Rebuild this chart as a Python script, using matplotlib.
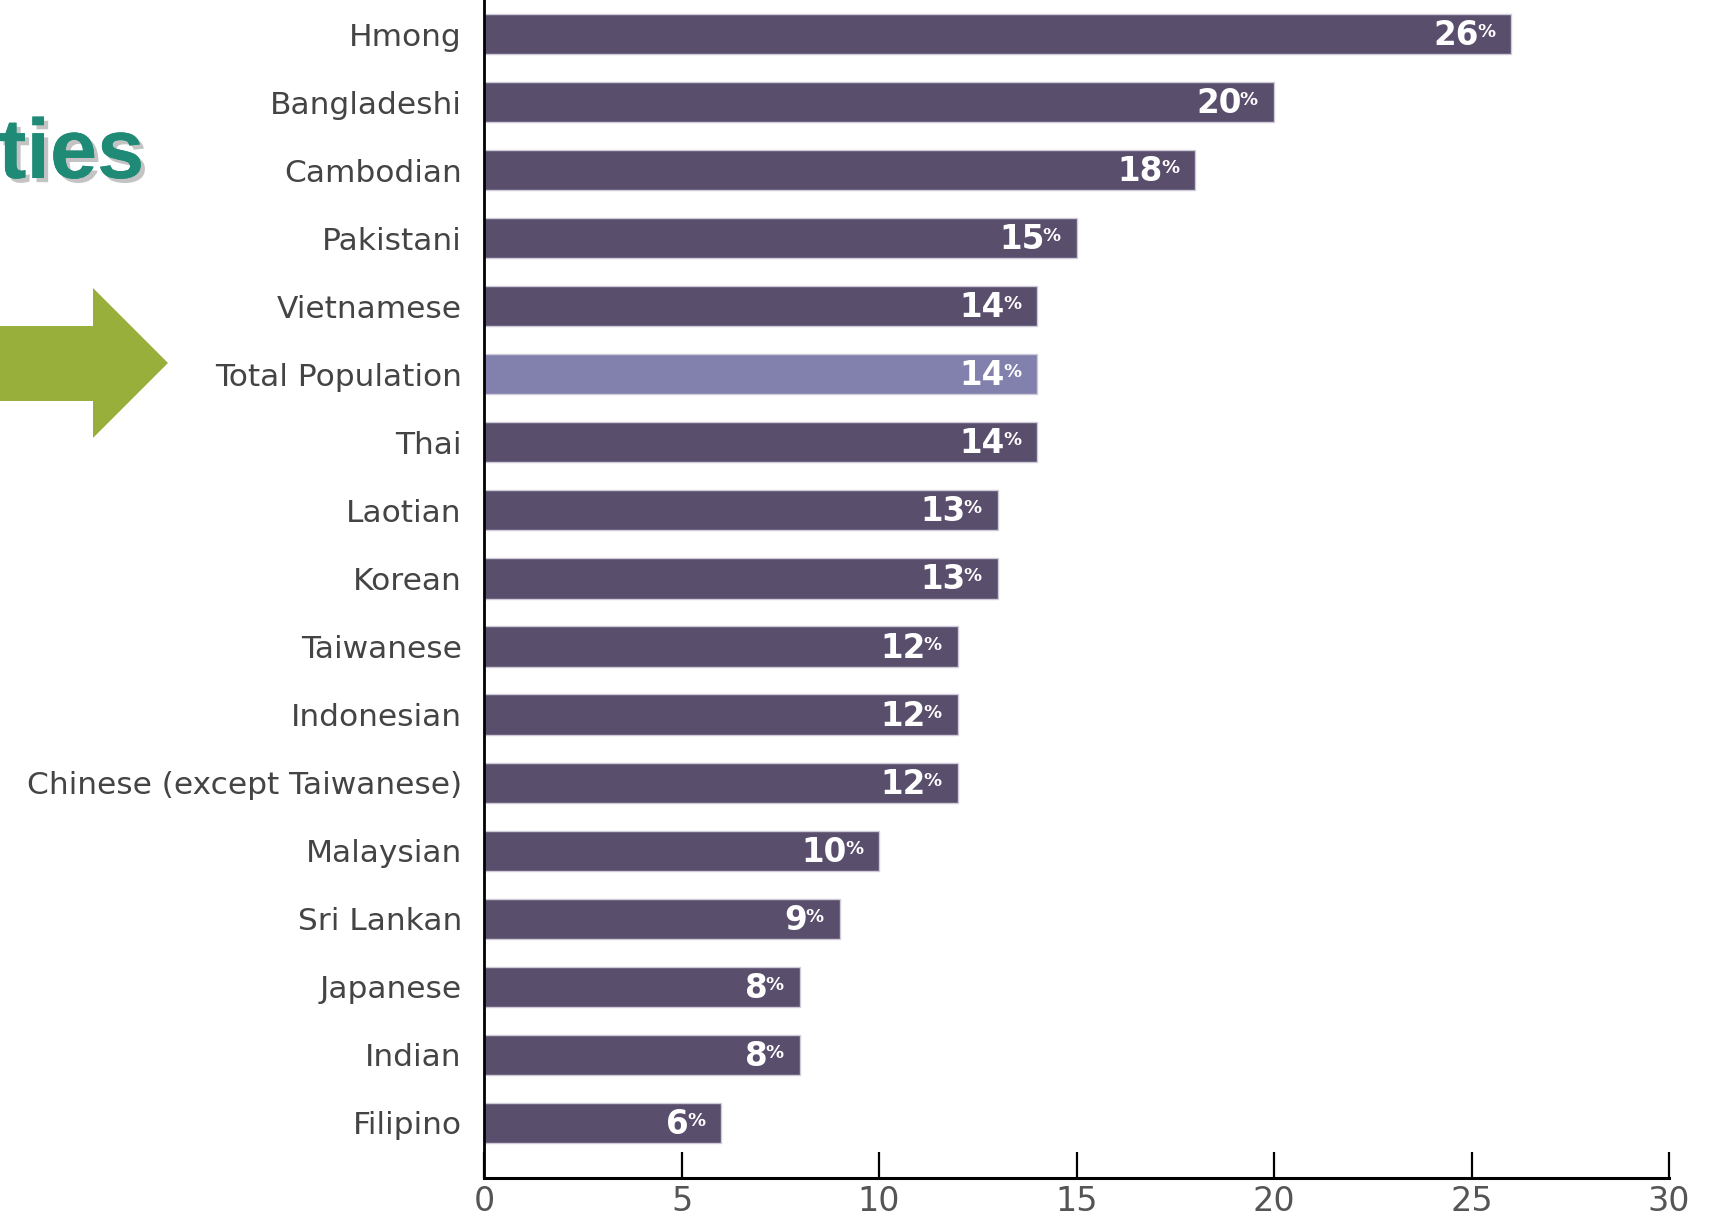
import matplotlib
import matplotlib.pyplot as plt
import matplotlib.patheffects as pe
from matplotlib.patches import Polygon
import numpy as np

matplotlib.use("Agg")

groups = ["Hmong", "Bangladeshi", "Cambodian", "Pakistani", "Vietnamese",
          "Total Population", "Thai", "Laotian", "Korean", "Taiwanese",
          "Indonesian", "Chinese (except Taiwanese)", "Malaysian", "Sri Lankan",
          "Japanese", "Indian", "Filipino"]
pct = [26, 20, 18, 15, 14, 14, 14, 13, 13, 12, 12, 12, 10, 9, 8, 8, 6]
xticks = [0, 5, 10, 15, 20, 25, 30]

DARK = "#5a4e6d"
LIGHT = "#8280ad"

plt.rcParams["font.family"] = ["Liberation Sans", "DejaVu Sans"]

W, H = 1713, 1217
fig = plt.figure(figsize=(W / 100, H / 100), dpi=100)
ax = fig.add_axes([484 / W, 1 - 1178 / H, (1669 - 484) / W, 1178 / H])

y = np.arange(len(groups))
colors = [LIGHT if g == "Total Population" else DARK for g in groups]
ax.barh(y, pct, height=0.59, color=colors, edgecolor="#cfcbd8", linewidth=1.0)

ax.set_xlim(0, 30)
ax.set_ylim(16.81, -0.5)
ax.set_yticks(y)
ax.set_yticklabels(groups, family=["DejaVu Sans"], fontsize=22.5, color="#444444")
ax.tick_params(axis="y", length=0, pad=16)
ax.set_xticks(xticks)
ax.set_xticklabels([str(t) for t in xticks], family=["Liberation Sans Narrow", "DejaVu Sans"],
                   fontsize=24, color="#555555")
ax.tick_params(axis="x", direction="in", length=19, width=1.6, pad=5)
for s in ["top", "right"]:
    ax.spines[s].set_visible(False)
ax.spines["left"].set_linewidth(2)
ax.spines["bottom"].set_linewidth(2.2)

# value labels: big bold number plus a small raised "%"
renderer = fig.canvas.get_renderer()
for yi, v in zip(y, pct):
    p = ax.annotate("%", xy=(v, yi), xytext=(-16, -3), textcoords="offset pixels",
                    ha="right", va="baseline", color="white", fontsize=13,
                    family=["DejaVu Sans"], fontweight="bold")
    pw = p.get_window_extent(renderer).width
    ax.annotate(str(v), xy=(v, yi), xytext=(-16 - pw + 2, -11), textcoords="offset pixels",
                ha="right", va="baseline", color="white", fontsize=23.5,
                family=["DejaVu Sans"], fontweight="bold")

# title fragment cut at the left edge
fig.text(144 / W, 1 - 178 / H, "ties", ha="right", va="baseline", fontsize=61,
         fontweight="bold", color="#1f8a76",
         path_effects=[pe.withSimplePatchShadow(offset=(3, -3), shadow_rgbFace="#888888", alpha=0.5),
                       pe.Normal()])

# green arrow pointing at Total Population
pts = [(0, 326), (93, 326), (93, 288), (168, 363), (93, 438), (93, 401), (0, 401)]
fig.patches.append(Polygon([(px / W, 1 - py / H) for px, py in pts], closed=True,
                           transform=fig.transFigure, facecolor="#98b03b", edgecolor="none"))

fig.savefig("out.png", dpi=100)
